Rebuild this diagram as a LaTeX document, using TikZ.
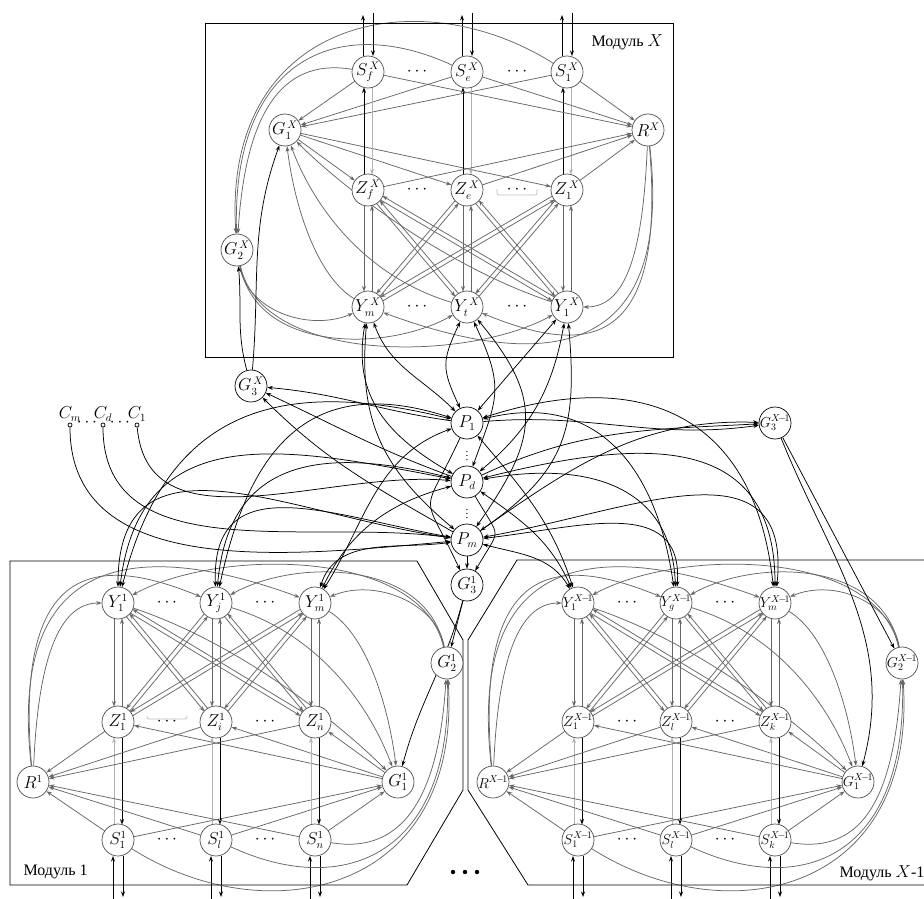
\documentclass[tikz,border=0pt]{standalone}
\usepackage{fontspec}
\setmainfont{Liberation Serif}
\usetikzlibrary{arrows.meta,calc}
\pgfdeclarelayer{bg}
\pgfsetlayers{bg,main}
\newcommand{\nl}[1]{\makebox[0pt]{$#1$}}
\newcommand{\XI}{X\!-\!1}
\newcommand{\pline}[4]{\draw[#4,shorten <=15.5pt,shorten >=15.5pt] ($(#1)!#3!-90:(#2)$) -- ($(#2)!#3!90:(#1)$);}
\newcommand{\plineL}[4]{\draw[#4,shorten <=15.5pt,shorten >=15.5pt] ($(#1)!#3!90:(#2)$) -- ($(#2)!#3!-90:(#1)$);}
\newcommand{\modedges}[1]{%
  \foreach \i in {1,2,3}{%
    \pline{#1Y\i}{#1Z\i}{4pt}{mod,->}
    \pline{#1Z\i}{#1Y\i}{4pt}{mod,->}
    \plineL{#1Z\i}{#1S\i}{4pt}{ic,->}
    \plineL{#1S\i}{#1Z\i}{4pt}{lgt,->}
    \draw[mod,->] (#1Z\i) -- (#1R);
    \draw[mod,->] (#1G1) -- (#1Z\i);
    \draw[mod,->] (#1S\i) -- (#1R);
    \draw[mod,->] (#1S\i) -- (#1G1);
    \draw[ic,->] (#1S\i.center) ++(5,16) -- ++(0,41);
    \draw[ic,->] (#1S\i.center) ++(-5,59) -- ++(0,-43);
  }
  \foreach \ya/\zb in {1/2,1/3,2/1,2/3,3/1,3/2}{%
    \pline{#1Y\ya}{#1Z\zb}{2.2pt}{mod,->}
    \pline{#1Z\zb}{#1Y\ya}{2.2pt}{mod,->}
  }
  \draw[mod,->] (#1Y1) .. controls +(120,40) and +(-60,-60) .. (#1G1);
  \draw[mod,->] (#1Y2) .. controls +(100,30) and +(-30,-80) .. (#1G1);
  \draw[mod,->] (#1Y3) .. controls +(50,30) and +(-10,-80) .. (#1G1);
  \draw[mod,->] (#1R) .. controls +(5,-120) and +(-60,0) .. (#1Y1);
  \draw[mod,->] (#1R) .. controls +(-20,-230) and +(-110,-45) .. (#1Y2);
  \draw[mod,->] (#1R) .. controls +(-28,-250) and +(-150,-55) .. (#1Y3);
  \draw[mod,->] (#1G2) .. controls +(-10,-60) and +(60,-25) .. (#1Y3);
  \draw[mod,->] (#1G2) .. controls +(-20,-103) and +(80,-45) .. (#1Y2);
  \draw[mod,->] (#1G2) .. controls +(-25,-115) and +(100,-55) .. (#1Y1);
  \draw[mod,->] (#1S3) .. controls +(90,15) and +(-8,130) .. (#1G2);
  \draw[mod,->] (#1S2) .. controls +(130,60) and +(5,190) .. (#1G2);
  \draw[mod,->] (#1S1) .. controls +(150,95) and +(15,230) .. (#1G2);
}
\begin{document}
\begin{tikzpicture}[x=1pt,y=-1pt,
  >={Stealth[length=5.5pt,width=4pt]},
  mn/.style={circle,draw=black!70,line width=0.7pt,fill=white,minimum size=32pt,inner sep=0pt,font=\fontsize{16}{18}\selectfont},
  mnb/.style={mn,font=\fontsize{14}{16}\selectfont},
  pn/.style={mn,draw=black},
  cdot/.style={circle,draw,fill=white,inner sep=0pt,minimum size=4pt,line width=0.7pt},
  mod/.style={draw=black!60,line width=0.75pt},
  lgt/.style={draw=black!30,line width=0.75pt},
  ic/.style={draw=black,line width=0.75pt},
  boxline/.style={draw=black,line width=0.8pt},
  lbl/.style={font=\fontsize{16}{18}\selectfont},
  clbl/.style={font=\fontsize{16}{18}\selectfont},
  dts/.style={font=\fontsize{16}{18}\selectfont},
  vdts/.style={font=\fontsize{11}{12}\selectfont,inner sep=0pt}]
\useasboundingbox (0,0) rectangle (924,899);
\clip (0,0) rectangle (924,899);

% module boxes
\draw[boxline] (205,23) rectangle (673,357);
\draw[boxline] (10,561) -- (417,561) -- (463,640) -- (463,790) -- (407,885) -- (10,885) -- cycle;
\draw[boxline] (940,560) -- (517,560) -- (468,640) -- (468,790) -- (528,885) -- (940,885);

% Module 1
\node[mn] (AY1) at (118,603) {\nl{Y^1_1}};
\node[mn] (AY2) at (216,603) {\nl{Y^1_j}};
\node[mn] (AY3) at (315,603) {\nl{Y^1_m}};
\node[mn] (AZ1) at (118,722) {\nl{Z^1_1}};
\node[mn] (AZ2) at (216,722) {\nl{Z^1_i}};
\node[mn] (AZ3) at (315,722) {\nl{Z^1_n}};
\node[mn] (AS1) at (118,840) {\nl{S^1_1}};
\node[mn] (AS2) at (216,840) {\nl{S^1_l}};
\node[mn] (AS3) at (315,840) {\nl{S^1_n}};
\node[mn] (AR)  at (33,782)  {\nl{R^1}};
\node[mn] (AG1) at (398,782) {\nl{G^1_1}};
\node[mn] (AG2) at (447,663) {\nl{G^1_2}};
% Module X-1
\node[mnb] (BY1) at (578,603) {\nl{Y^{\XI}_1}};
\node[mnb] (BY2) at (676,603) {\nl{Y^{\XI}_g}};
\node[mnb] (BY3) at (775,603) {\nl{Y^{\XI}_m}};
\node[mnb] (BZ1) at (578,722) {\nl{Z^{\XI}_1}};
\node[mnb] (BZ2) at (676,722) {\nl{Z^{\XI}_l}};
\node[mnb] (BZ3) at (775,722) {\nl{Z^{\XI}_k}};
\node[mnb] (BS1) at (578,840) {\nl{S^{\XI}_1}};
\node[mnb] (BS2) at (676,840) {\nl{S^{\XI}_l}};
\node[mnb] (BS3) at (775,840) {\nl{S^{\XI}_k}};
\node[mnb] (BR)  at (493,782) {\nl{R^{\XI}}};
\node[mnb] (BG1) at (858,782) {\nl{G^{\XI}_1}};
\node[mnb] (BG2) at (902,663) {\nl{G^{\XI}_2}};
% Module X
\node[mn] (TY1) at (567,307) {\nl{Y^{\,X}_1}};
\node[mn] (TY2) at (467,307) {\nl{Y^{\,X}_t}};
\node[mn] (TY3) at (368,307) {\nl{Y^{\,X}_m}};
\node[mn] (TZ1) at (567,190) {\nl{Z^{\,X}_1}};
\node[mn] (TZ2) at (467,190) {\nl{Z^{\,X}_e}};
\node[mn] (TZ3) at (368,190) {\nl{Z^{\,X}_f}};
\node[mn] (TS1) at (567,72)  {\nl{S^{\,X}_1}};
\node[mn] (TS2) at (467,72)  {\nl{S^{\,X}_e}};
\node[mn] (TS3) at (368,72)  {\nl{S^{\,X}_f}};
\node[mn] (TR)  at (648,130) {\nl{R^X}};
\node[mn] (TG1) at (285,130) {\nl{G^{\,X}_1}};
\node[mn] (TG2) at (237,250) {\nl{G^{\,X}_2}};
% middle
\node[pn] (P1) at (467,423) {\nl{P_1}};
\node[pn] (Pd) at (467,482) {\nl{P_d}};
\node[pn] (Pm) at (467,540) {\nl{P_m}};
\node[pn] (GX3) at (251,386) {\nl{G^{\,X}_3}};
\node[pn] (G13) at (467,585) {\nl{G^1_3}};
\node[mnb,draw=black] (GY3) at (775,423) {\nl{G^{\XI}_3}};
\node[cdot,label={[clbl,inner sep=1pt]above:$C_m$}] (Cm) at (70,425) {};
\node[cdot,label={[clbl,inner sep=1pt]above:$C_d$}] (Cd) at (103,425) {};
\node[cdot,label={[clbl,inner sep=1pt]above:$C_1$}] (C1) at (137,425) {};
\node[dts] at (87,423) {$\cdots$};
\node[dts] at (120,423) {$\cdots$};

% dots in rows
\foreach \x in {167,265,627,725}{\foreach \y in {603,722,840}{\node[dts] at (\x,\y) {$\cdots$};}}
\foreach \x in {417,517}{\foreach \y in {72,190,307}{\node[dts] at (\x,\y) {$\cdots$};}}
\node[vdts] at (467,453) {$\vdots$};
\node[vdts] at (467,511) {$\vdots$};
\foreach \x in {453,465,477}{\fill (\x,872) circle (2.2pt);}
\draw[black!25,line width=0.7pt,rounded corners=2pt] (497,189) -- (497,195) -- (537,195) -- (537,189);
\draw[black!25,line width=0.7pt,rounded corners=2pt] (147,716) -- (147,719) -- (187,719) -- (187,716);

% labels
\node[lbl,anchor=west] at (588,42) {Модуль $X$};
\node[lbl,anchor=west] at (20,872) {Модуль 1};
\node[lbl,anchor=west] at (836,873) {Модуль $X$-1};

\begin{pgfonlayer}{bg}
\modedges{A}
\modedges{B}
\begin{scope}[xscale=-1,yscale=-1]
\modedges{T}
\end{scope}

% P <-> Y module 1
\foreach \p/\o/\n in {P1/166/76,Pd/169/83,Pm/172/90}{\draw[ic,<->] (\p) to[out=\o,in=\n,looseness=1.25] (AY1);}
\foreach \p/\o/\n in {P1/162/78,Pd/166/85,Pm/170/92}{\draw[ic,<->] (\p) to[out=\o,in=\n,looseness=1.3] (AY2);}
\foreach \p/\o/\n in {P1/200/58,Pd/195/64,Pm/188/72}{\draw[ic,<->] (\p) to[out=\o,in=\n] (AY3);}
% P <-> Y module X-1
\foreach \p/\o/\n in {P1/-50/108,Pd/-35/114,Pm/-15/120}{\draw[ic,<->] (\p) to[out=\o,in=\n] (BY1);}
\foreach \p/\o/\n in {P1/14/98,Pd/10/92,Pm/6/86}{\draw[ic,<->] (\p) to[out=\o,in=\n,looseness=1.2] (BY2);}
\foreach \p/\o/\n in {P1/18/96,Pd/14/90,Pm/10/84}{\draw[ic,<->] (\p) to[out=\o,in=\n,looseness=1.3] (BY3);}
% P <-> Y module X
\draw[ic,<->] (TY3) to[out=-70,in=135] (P1);
\draw[ic,<->] (TY3) to[out=-100,in=150,looseness=1.1] (Pd);
\draw[ic,<->] (TY3) to[out=-95,in=140,looseness=1.1] (Pm);
\draw[ic,<->] (TY2) to[out=-115,in=115,looseness=1.3] (P1);
\draw[ic,<->] (TY2) to[out=-65,in=70,looseness=1.3] (Pd);
\draw[ic,<->] (TY2) to[out=-50,in=55,looseness=1.3] (Pm);
\draw[ic,<->] (TY1) -- (P1);
\draw[ic,<->] (TY1) to[out=-100,in=40] (Pd);
\draw[ic,<->] (TY1) to[out=-85,in=35,looseness=1.2] (Pm);
% P -> G3
\draw[ic,->] (P1) to[out=172,in=-5] (GX3);
\draw[ic,->] (Pd) to[out=160,in=-25] (GX3);
\draw[ic,->] (Pm) to[out=150,in=-45] (GX3);
\draw[ic,->] (P1) to[out=5,in=188] (GY3);
\draw[ic,->] (Pd) to[out=25,in=183] (GY3);
\draw[ic,->] (Pm) to[out=35,in=178] (GY3);
\draw[ic,->] (Pm) -- (G13);
\draw[ic,->] (P1) to[out=-115,in=115,looseness=1.8] (G13);
\draw[ic,->] (Pd) to[out=-60,in=60,looseness=1.8] (G13);
% G3 -> modules
\draw[ic,->] (GX3) to[out=105,in=-85] (TG2);
\draw[ic,->] (GX3) to[out=85,in=-110] (TG1);
\draw[ic,->] (G13) -- (AG2);
\draw[ic,->] (G13) to[out=-105,in=75] (AG1);
\draw[ic,->] (GY3) -- (BG2);
\draw[ic,->] (GY3) to[out=-68,in=75] (BG1);
% C -> P
\draw[ic,->] (C1) to[out=-85,in=175] (Pd);
\draw[ic,->] (Cd) to[out=-90,in=172] (Pm);
\draw[ic,->] (Cm) to[out=-90,in=185] (Pm);
\end{pgfonlayer}
\end{tikzpicture}
\end{document}
